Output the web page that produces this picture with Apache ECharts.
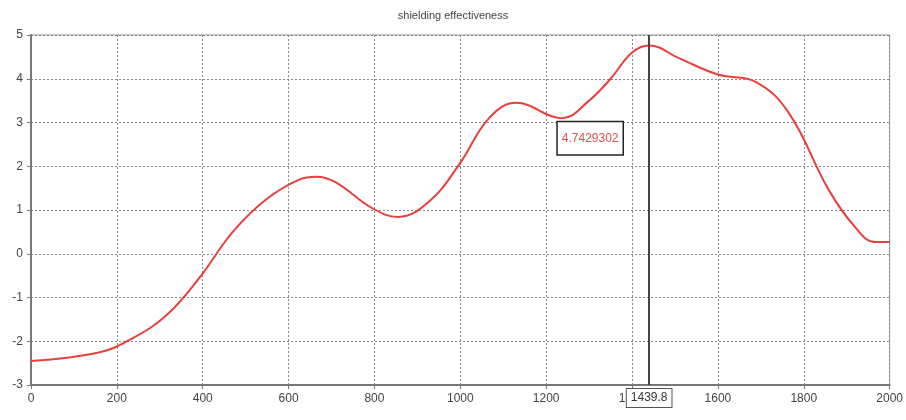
<!DOCTYPE html>
<html>
<head>
<meta charset="utf-8">
<script src="https://cdn.jsdelivr.net/npm/echarts@6/dist/echarts.min.js"></script>
<style>
  html, body { margin: 0; padding: 0; background: #fff; }
  #chart { width: 906px; height: 420px; }
</style>
</head>
<body>
<div id="chart"></div>
<script>
// values
const freq = [0, 160, 237, 316, 393, 470, 549, 626, 665, 710, 795, 855, 928, 998, 1067, 1130,
  1237, 1300, 1350, 1400, 1440, 1509, 1602, 1688, 1765, 1858, 1921, 1965, 2000];
const shielding = [-2.45, -2.25, -1.93, -1.40, -0.54, 0.5, 1.25, 1.7, 1.76, 1.63, 1.04, 0.84, 1.2, 2.05, 3.1, 3.45,
  3.1, 3.5, 4.0, 4.6, 4.76, 4.47, 4.09, 3.93, 3.22, 1.46, 0.59, 0.27, 0.27];

const cursorX = 1439.8;
const cursorValue = '4.7429302';

const chart = echarts.init(document.getElementById('chart'));

chart.setOption({
  backgroundColor: '#fff',
  animation: false,
  title: {
    text: 'shielding effectiveness',
    left: 'center',
    top: 5,
    textStyle: { fontFamily: 'Liberation Sans', fontSize: 11, fontWeight: 'normal', color: '#444' }
  },
  grid: {
    left: 31, right: 14, top: 35, bottom: 35,
    show: true, borderColor: '#999', borderWidth: 1
  },
  xAxis: {
    type: 'value', min: 0, max: 2000, interval: 200,
    axisLine: { onZero: false, lineStyle: { color: '#777', width: 2 } },
    axisTick: { show: true, length: 4, lineStyle: { color: '#777' } },
    axisLabel: { color: '#444', fontFamily: 'Liberation Sans', fontSize: 12, margin: 8, formatter: v => String(v) },
    splitLine: { show: true, lineStyle: { type: [2, 2], color: '#888' } }
  },
  yAxis: {
    type: 'value', min: -3, max: 5, interval: 1,
    axisLine: { show: true, lineStyle: { color: '#777', width: 2 } },
    axisTick: { show: true, length: 4, lineStyle: { color: '#777' } },
    axisLabel: { color: '#444', fontFamily: 'Liberation Sans', fontSize: 12, margin: 8 },
    splitLine: { show: true, lineStyle: { type: [2, 2], color: '#888' } }
  },
  series: [{
    type: 'line',
    data: freq.map((f, i) => [f, shielding[i]]),
    smooth: 0.4,
    showSymbol: false,
    lineStyle: { color: '#e8403c', width: 2 },
    markLine: {
      silent: true,
      symbol: 'none',
      lineStyle: { color: '#444', width: 2, type: 'solid' },
      label: {
        position: 'start',
        formatter: String(cursorX),
        color: '#333',
        fontFamily: 'Liberation Sans',
        fontSize: 12,
        backgroundColor: '#fff',
        borderColor: '#555',
        borderWidth: 1,
        padding: [3, 4],
        distance: 4
      },
      data: [{ xAxis: cursorX }]
    },
    markPoint: {
      silent: true,
      symbol: 'rect',
      symbolSize: 0,
      data: [{ coord: [cursorX, 4.7429302] }],
      label: {
        show: true,
        formatter: cursorValue,
        offset: [-59, 92],
        color: '#e05050',
        fontFamily: 'Liberation Sans',
        fontSize: 12,
        backgroundColor: '#fff',
        borderColor: '#222',
        borderWidth: 1.5,
        padding: [10, 4]
      }
    }
  }]
});
</script>
</body>
</html>
